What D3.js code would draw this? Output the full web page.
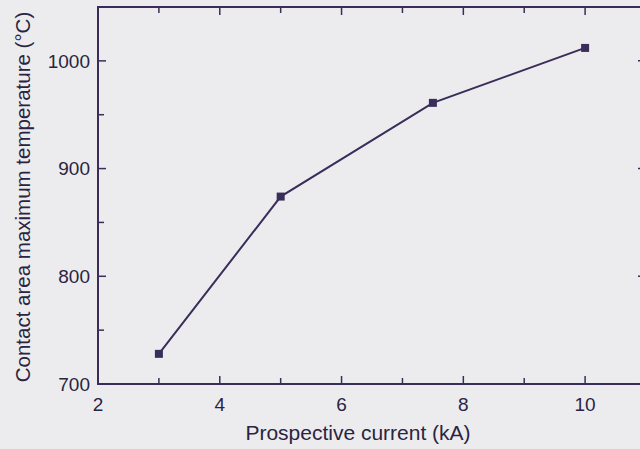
<!DOCTYPE html>
<html>
<head>
<meta charset="utf-8">
<script src="https://cdn.jsdelivr.net/npm/d3@7"></script>
<style>
  body { margin: 0; background: #ececee; }
  svg { display: block; }
  text { font-family: "Liberation Sans", Arial, sans-serif; fill: #2b2440; }
</style>
</head>
<body>
<div id="chart"></div>
<script>
// data
const currents = [3, 5, 7.5, 10];          // kA
const temps = [728, 874, 961, 1012];       // deg C
const xTicks = [2, 4, 6, 8, 10];
const yTicks = [700, 800, 900, 1000];

const W = 640, H = 449;
const margin = {top: 7, right: -6, bottom: 65, left: 98};
const width = W - margin.left - margin.right,
    height = H - margin.top - margin.bottom;
const ink = "#3a2d5a";

let svg = d3.select("#chart").append("svg")
    .attr("width", W)
    .attr("height", H)
  .append("g")
    .attr("transform", "translate(" + margin.left + "," + margin.top + ")");

let x = d3.scaleLinear().domain([2, 11]).range([0, width]);
let y = d3.scaleLinear().domain([700, 1050]).range([height, 0]);

// frame
svg.append("rect")
    .attr("width", width).attr("height", height)
    .attr("fill", "none").attr("stroke", ink).attr("stroke-width", 2);

// inward ticks on all four sides
const xMinor = d3.range(2, 12, 1), yMinor = d3.range(700, 1051, 50);
function tickLen(v, major) { return major.includes(v) ? 8 : 6; }

svg.selectAll(".xtb").data(xMinor).enter().append("line")
    .attr("x1", d => x(d)).attr("x2", d => x(d))
    .attr("y1", height).attr("y2", d => height - tickLen(d, xTicks))
    .attr("stroke", ink).attr("stroke-width", 1.5);
svg.selectAll(".xtt").data(xMinor).enter().append("line")
    .attr("x1", d => x(d)).attr("x2", d => x(d))
    .attr("y1", 0).attr("y2", d => tickLen(d, xTicks))
    .attr("stroke", ink).attr("stroke-width", 1.5);
svg.selectAll(".ytl").data(yMinor).enter().append("line")
    .attr("y1", d => y(d)).attr("y2", d => y(d))
    .attr("x1", 0).attr("x2", d => tickLen(d, yTicks))
    .attr("stroke", ink).attr("stroke-width", 1.5);
svg.selectAll(".ytr").data(yMinor).enter().append("line")
    .attr("y1", d => y(d)).attr("y2", d => y(d))
    .attr("x1", width).attr("x2", d => width - tickLen(d, yTicks))
    .attr("stroke", ink).attr("stroke-width", 1.5);

// tick labels
svg.selectAll(".xl").data(xTicks).enter().append("text")
    .attr("x", d => x(d)).attr("y", height + 27)
    .attr("text-anchor", "middle").attr("font-size", 19)
    .text(d => d);
svg.selectAll(".yl").data(yTicks).enter().append("text")
    .attr("x", -8).attr("y", d => y(d)).attr("dy", "0.35em")
    .attr("text-anchor", "end").attr("font-size", 19)
    .text(d => d);

// axis titles
svg.append("text")
    .attr("x", 358 - margin.left).attr("y", H - margin.top - 9)
    .attr("text-anchor", "middle").attr("font-size", 21)
    .text("Prospective current (kA)");
svg.append("text")
    .attr("transform", "translate(" + (30 - margin.left) + "," + (197 - margin.top) + ") rotate(-90)")
    .attr("text-anchor", "middle").attr("font-size", 20.5)
    .text("Contact area maximum temperature (\u00B0C)");

// the series
let data = currents.map((c, i) => ({c: c, t: temps[i]}));
svg.append("path")
    .datum(data)
    .attr("fill", "none").attr("stroke", ink).attr("stroke-width", 2)
    .attr("d", d3.line().x(d => x(d.c)).y(d => y(d.t)));
svg.selectAll(".pt").data(data).enter().append("rect")
    .attr("x", d => x(d.c) - 4).attr("y", d => y(d.t) - 4)
    .attr("width", 8).attr("height", 8)
    .attr("fill", ink);
</script>
</body>
</html>
